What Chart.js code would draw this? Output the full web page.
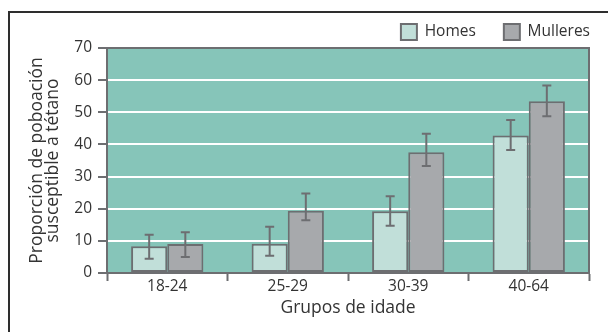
<!DOCTYPE html>
<html>
<head>
<meta charset="utf-8">
<script src="https://cdn.jsdelivr.net/npm/chart.js@4/dist/chart.umd.min.js"></script>
<style>
  html, body { margin: 0; padding: 0; background: #fff; }
  .wrap { position: relative; width: 608px; height: 332px; overflow: hidden; }
  .frame { position: absolute; left: 8px; top: 11px; width: 700px; height: 400px; border: 2px solid #2e2e2e; }
  #chart { position: absolute; left: 0; top: 0; }
</style>
</head>
<body>
<div class="wrap">
  <div class="frame"></div>
  <canvas id="chart" width="608" height="332"></canvas>
</div>
<script>
// data
const ageGroups = ["18-24", "25-29", "30-39", "40-64"];
const homes = [8.3, 9.1, 19.2, 42.8];
const homesLow = [4.4, 5.4, 14.7, 38.3];
const homesHigh = [11.9, 14.4, 23.9, 47.6];
const mulleres = [9.0, 19.4, 37.6, 53.4];
const mulleresLow = [5.0, 16.4, 33.3, 48.8];
const mulleresHigh = [12.7, 24.7, 43.3, 58.3];
const yTicks = [0, 10, 20, 30, 40, 50, 60, 70];

const dark = "#6d6e71";
const textClr = "#333333";
const font = { family: "Open Sans", size: 15.5 };
const titleFont = { family: "Open Sans", size: 17.5, lineHeight: 0.93 };

// teal plot background + top/right border
const plotBackground = {
  id: "plotBackground",
  beforeDraw(chart) {
    const { ctx, chartArea: a } = chart;
    ctx.save();
    ctx.fillStyle = "#86c5b9";
    ctx.fillRect(a.left, a.top, a.right - a.left, a.bottom - a.top);
    ctx.restore();
  },
  beforeDatasetsDraw(chart) {
    const { ctx, chartArea: a } = chart;
    ctx.save();
    ctx.strokeStyle = dark;
    ctx.lineWidth = 2;
    ctx.strokeRect(a.left, a.top, a.right - a.left, a.bottom - a.top);
    ctx.restore();
  }
};

// error bars from the low/high arrays
const errorBars = {
  id: "errorBars",
  afterDatasetsDraw(chart) {
    const { ctx } = chart;
    const y = chart.scales.y;
    ctx.save();
    ctx.strokeStyle = dark;
    ctx.lineWidth = 2;
    chart.data.datasets.forEach((ds, di) => {
      const meta = chart.getDatasetMeta(di);
      meta.data.forEach((bar, i) => {
        const top = y.getPixelForValue(ds.high[i]);
        const bottom = y.getPixelForValue(ds.low[i]);
        ctx.beginPath();
        ctx.moveTo(bar.x, top);
        ctx.lineTo(bar.x, bottom);
        ctx.moveTo(bar.x - 4.5, top);
        ctx.lineTo(bar.x + 4.5, top);
        ctx.moveTo(bar.x - 4.5, bottom);
        ctx.lineTo(bar.x + 4.5, bottom);
        ctx.stroke();
      });
    });
    ctx.restore();
  }
};

// legend sits over the plot's right edge, nudge it
const legendShift = {
  id: "legendShift",
  afterLayout(chart) {
    const lg = chart.legend;
    lg.left += 29;
    lg.right += 29;
    lg.top -= 4;
    lg.bottom -= 4;
  }
};

new Chart(document.getElementById("chart"), {
  type: "bar",
  data: {
    labels: ageGroups,
    datasets: [
      {
        label: "Homes",
        data: homes,
        low: homesLow,
        high: homesHigh,
        backgroundColor: "#c1dfd9",
        borderColor: dark,
        borderWidth: 2,
        borderSkipped: false
      },
      {
        label: "Mulleres",
        data: mulleres,
        low: mulleresLow,
        high: mulleresHigh,
        backgroundColor: "#a7a9ac",
        borderColor: dark,
        borderWidth: 2,
        borderSkipped: false
      }
    ]
  },
  options: {
    responsive: false,
    animation: false,
    categoryPercentage: 0.6,
    barPercentage: 1.0,
    layout: { padding: { left: 0, right: 19, top: 0, bottom: 0 } },
    plugins: {
      legend: {
        position: "top",
        align: "end",
        maxHeight: 48,
        labels: {
          boxWidth: 16,
          boxHeight: 16,
          padding: 28,
          color: textClr,
          font: font
        }
      },
      tooltip: { enabled: false }
    },
    scales: {
      x: {
        afterFit: s => { s.height = 59; },
        grid: {
          offset: true,
          drawOnChartArea: false,
          tickLength: 8,
          tickColor: dark,
          tickWidth: 2
        },
        border: { color: dark, width: 2 },
        ticks: { color: textClr, font: font, padding: -4 },
        title: {
          display: true,
          text: "Grupos de idade",
          color: textClr,
          font: { family: "Open Sans", size: 17.5 },
          padding: { top: 0, bottom: 13 }
        }
      },
      y: {
        min: 0,
        max: 70,
        afterFit: s => { s.width = 107; },
        afterBuildTicks: s => { s.ticks = yTicks.map(v => ({ value: v })); },
        grid: {
          color: c => (c.tick && c.tick.value > 0 && c.tick.value < 70) ? "#ffffff" : "rgba(0,0,0,0)",
          lineWidth: 2,
          tickLength: 9,
          tickColor: dark,
          tickWidth: 2
        },
        border: { color: dark, width: 2 },
        ticks: { color: textClr, font: font, padding: 6 },
        title: {
          display: true,
          text: ["Proporción de poboación", "susceptible a tétano"],
          color: textClr,
          font: titleFont,
          padding: { top: 29, bottom: 0 }
        }
      }
    }
  },
  plugins: [plotBackground, errorBars, legendShift]
});
</script>
</body>
</html>
